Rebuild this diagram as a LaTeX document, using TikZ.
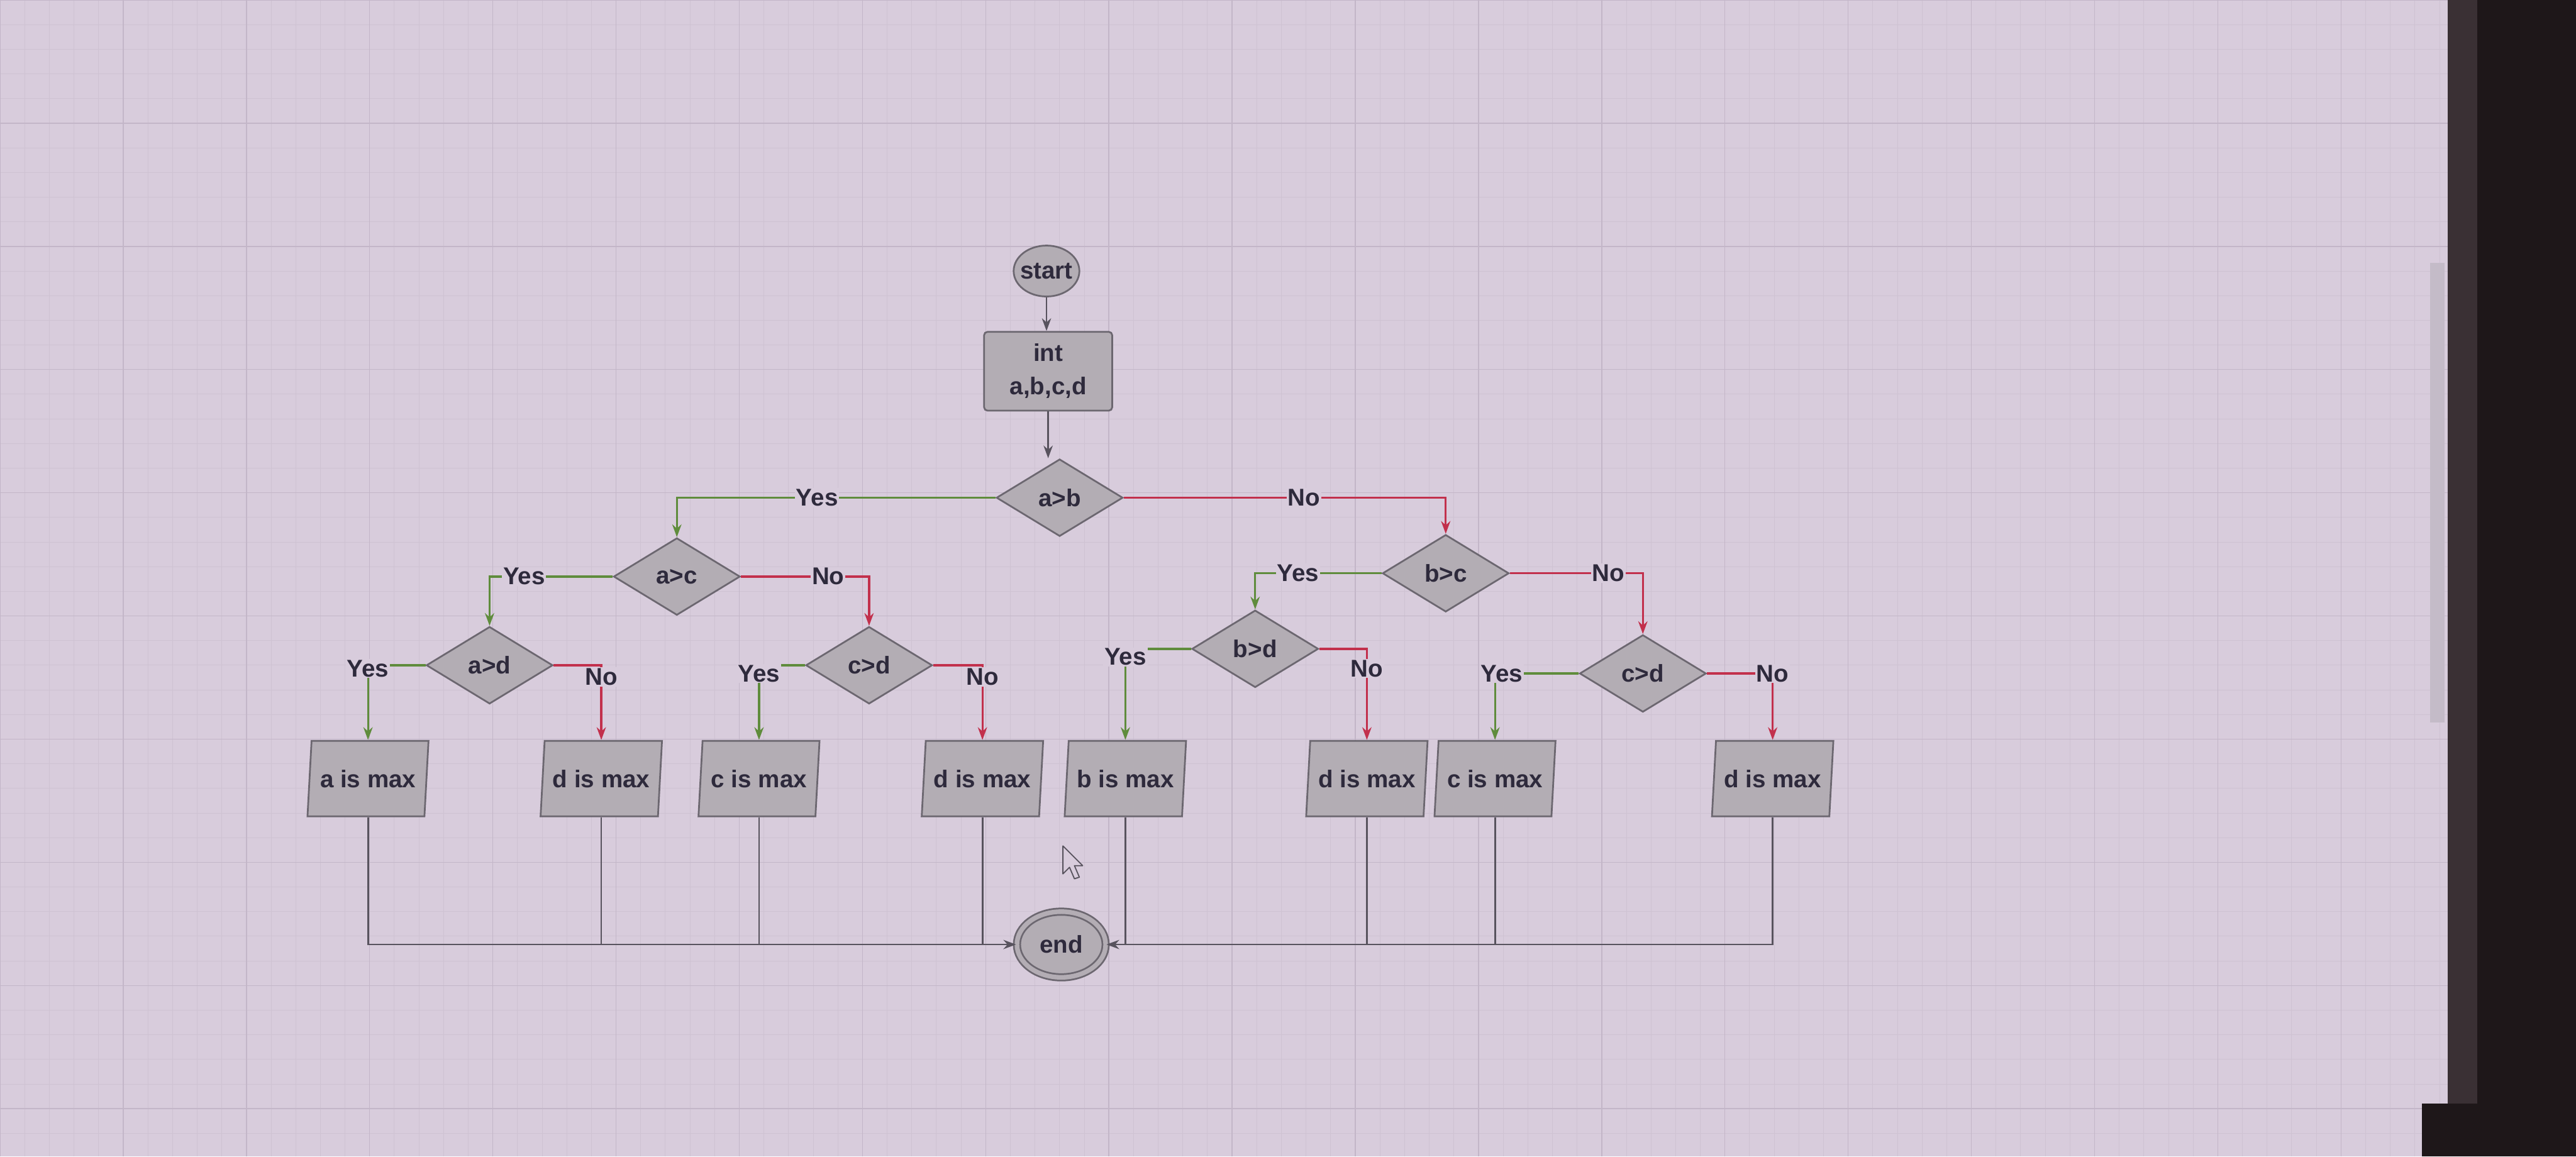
\documentclass[tikz,border=0pt]{standalone}
\usepackage{fontspec}
\setmainfont{Liberation Sans}
\usetikzlibrary{shapes.geometric,arrows.meta}
\definecolor{paper}{HTML}{D8CCDC}
\definecolor{gridminor}{HTML}{CEC2D2}
\definecolor{gridmajor}{HTML}{C3B6C8}
\definecolor{shade}{HTML}{B3ADB4}
\definecolor{edge}{HTML}{6C6770}
\definecolor{ink}{HTML}{2E2A3C}
\definecolor{okgreen}{HTML}{5F8C3C}
\definecolor{nored}{HTML}{C2304C}
\definecolor{wire}{HTML}{58535E}
\definecolor{bezel}{HTML}{3A3034}
\definecolor{frame}{HTML}{1E1719}
\definecolor{thumb}{HTML}{C4BBC8}

\begin{document}
\begin{tikzpicture}[x=0.05cm,y=-0.05cm,
  every node/.style={font=\fontsize{21}{29}\selectfont\bfseries,text=ink},
  box/.style={draw=edge,fill=shade,line width=1.5pt},
  decision/.style={box,diamond,minimum width=3.85cm,minimum height=2.35cm,inner sep=0pt},
  io/.style={box,trapezium,trapezium left angle=79,trapezium right angle=101,
    trapezium stretches=true,minimum width=3.7cm,minimum height=2.3cm,inner sep=0pt},
  lbl/.style={fill=paper,inner sep=1pt},
  tip/.style={-{Stealth[length=11pt,width=8pt]}},
  yes/.style={draw=okgreen,line width=1.8pt},
  no/.style={draw=nored,line width=1.8pt},
  flow/.style={draw=wire,line width=1.5pt}]
  % screen background
  \useasboundingbox (0,0) rectangle (1568,704);
  \fill[paper] (0,0) rectangle (1568,704);
  \draw[gridminor,line width=0.5pt] (0,0) grid[step=0.75cm] (1490,704);
  \draw[gridmajor,line width=0.8pt] (0,0) grid[step=3.75cm] (1490,704);
  \fill[thumb] (1479,160) rectangle (1488,440);
  \fill[bezel] (1490,0) rectangle (1568,704);
  \fill[frame] (1508,0) rectangle (1568,704);
  \fill[frame] (1474,672) rectangle (1568,704);

  % nodes
  \node[box,ellipse,minimum width=2cm,minimum height=1.55cm,inner sep=-5pt] (start) at (637,165) {start};
  \node[box,rounded corners=3pt,minimum width=3.9cm,minimum height=2.4cm,align=center] (init) at (638,226) {int\\a,b,c,d};
  \node[decision] (ab) at (645,303) {a>b};
  \node[decision] (ac) at (412,351) {a>c};
  \node[decision] (ad) at (298,405) {a>d};
  \node[decision] (cdl) at (529,405) {c>d};
  \node[decision] (bc) at (880,349) {b>c};
  \node[decision] (bd) at (764,395) {b>d};
  \node[decision] (cdr) at (1000,410) {c>d};

  \node[io] (amax) at (224,474) {a is max};
  \node[io] (dmaxa) at (366,474) {d is max};
  \node[io] (cmaxa) at (462,474) {c is max};
  \node[io] (dmaxb) at (598,474) {d is max};
  \node[io] (bmax) at (685,474) {b is max};
  \node[io] (dmaxc) at (832,474) {d is max};
  \node[io] (cmaxb) at (910,474) {c is max};
  \node[io] (dmaxd) at (1079,474) {d is max};

  \node[box,ellipse,double=shade,double distance=4pt,minimum width=2.7cm,minimum height=2cm,inner sep=0pt] (end) at (646,575) {end};

  % connectors
  \draw[flow,tip] (start.south) -- (start.south |- init.north);
  \draw[flow,tip] (init.south) -- (init.south |- ab.north);

  \draw[yes,tip] (ab.west) -| node[lbl,pos=0.28] {Yes} (ac.north);
  \draw[no,tip] (ab.east) -| node[lbl,pos=0.28] {No} (bc.north);
  \draw[yes,tip] (ac.west) -| node[lbl,pos=0.36] {Yes} (ad.north);
  \draw[no,tip] (ac.east) -| node[lbl,pos=0.34] {No} (cdl.north);
  \draw[yes,tip] (bc.west) -| node[lbl,pos=0.33] {Yes} (bd.north);
  \draw[no,tip] (bc.east) -| node[lbl,pos=0.37] {No} (cdr.north);

  \draw[yes,tip] (ad.west) -| node[lbl,pos=0.5,yshift=-0.1cm] {Yes} (amax.north);
  \draw[no,tip] (ad.east) -| node[lbl,pos=0.5,yshift=-0.35cm] {No} (dmaxa.north);
  \draw[yes,tip] (cdl.west) -| node[lbl,pos=0.5,yshift=-0.25cm] {Yes} (cmaxa.north);
  \draw[no,tip] (cdl.east) -| node[lbl,pos=0.5,yshift=-0.35cm] {No} (dmaxb.north);
  \draw[yes,tip] (bd.west) -| node[lbl,pos=0.5,yshift=-0.25cm] {Yes} (bmax.north);
  \draw[no,tip] (bd.east) -| node[lbl,pos=0.5,yshift=-0.6cm] {No} (dmaxc.north);
  \draw[yes,tip] (cdr.west) -| node[lbl,pos=0.46] {Yes} (cmaxb.north);
  \draw[no,tip] (cdr.east) -| node[lbl,pos=0.5] {No} (dmaxd.north);

  \draw[flow,tip] (amax.south) |- (end.west);
  \draw[flow] (dmaxa.south) -- (dmaxa.south |- end.west);
  \draw[flow] (cmaxa.south) -- (cmaxa.south |- end.west);
  \draw[flow] (dmaxb.south) -- (dmaxb.south |- end.west);
  \draw[flow,tip] (dmaxd.south) |- (end.east);
  \draw[flow] (bmax.south) -- (bmax.south |- end.east);
  \draw[flow] (dmaxc.south) -- (dmaxc.south |- end.east);
  \draw[flow] (cmaxb.south) -- (cmaxb.south |- end.east);

  % mouse pointer
  \draw[wire,fill=paper,line width=1pt,line join=round] (647,515) -- (647,532) -- (651,528) -- (654,535) -- (657,534) -- (654,527) -- (659,527) -- cycle;
\end{tikzpicture}
\end{document}
